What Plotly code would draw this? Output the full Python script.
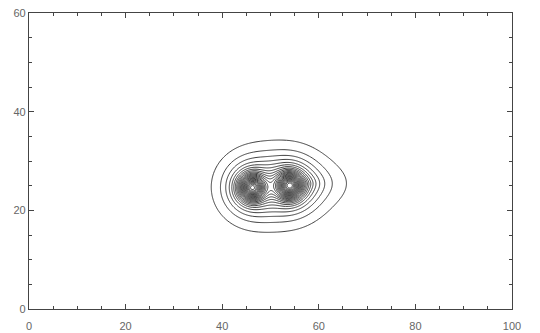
import numpy as np
import plotly.graph_objects as go

# Sources making up the field
# broad exponential components: two stars plus a faint halo to the right
src_x = [46.2, 54.0, 57.0]
src_y = [24.6, 25.0, 25.5]
src_amp = [1.0, 1.0, 0.12]
src_core = [2.0, 2.0, 0.0]
src_scale = [2.5, 2.5, 6.0]
src_ystretch = [1.0, 1.0, 2.0]
# compact gaussian cores of the two stars
core_x = [46.2, 54.0]
core_y = [24.6, 25.0]
core_amp = [0.4, 0.4]
core_sigma = [1.6, 1.6]

level_step = 0.037
level_start = 0.037
level_end = 1.0

x_ticks = [0, 20, 40, 60, 80, 100]
y_ticks = [0, 20, 40, 60]

xs = np.linspace(0, 100, 501)
ys = np.linspace(0, 60, 301)
X, Y = np.meshgrid(xs, ys)
Z = np.zeros_like(X)
for sx_, sy_, a, c, s, k in zip(src_x, src_y, src_amp, src_core, src_scale, src_ystretch):
    r2 = (X - sx_) ** 2 + ((Y - sy_) * k) ** 2
    Z += a * np.exp(-np.sqrt(r2 + c ** 2) / s)
for cx, cy, a, sg in zip(core_x, core_y, core_amp, core_sigma):
    r2 = (X - cx) ** 2 + (Y - cy) ** 2
    Z += a * np.exp(-r2 / (2 * sg ** 2))

fig = go.Figure(go.Contour(
    x=xs, y=ys, z=Z,
    contours=dict(coloring="lines", start=level_start, end=level_end, size=level_step),
    line=dict(color="#3a3a3a", width=1),
    colorscale=[[0, "#3a3a3a"], [1, "#3a3a3a"]],
    showscale=False, hoverinfo="skip",
))

axis_common = dict(
    showline=True, linecolor="#444", linewidth=1.2, mirror="allticks",
    ticks="inside", ticklen=5, tickcolor="#444", tickwidth=1,
    showgrid=False, zeroline=False, automargin=False,
    tickfont=dict(family="Liberation Sans, Arial, sans-serif", size=11, color="#666"),
)
fig.update_xaxes(range=[0, 100], tickvals=x_ticks, ticklabelstandoff=7,
                 minor=dict(ticks="inside", ticklen=3, dtick=5, tick0=0, tickcolor="#444", showgrid=False),
                 **axis_common)
fig.update_yaxes(range=[0, 60], tickvals=y_ticks,
                 minor=dict(ticks="inside", ticklen=3, dtick=5, tick0=0, tickcolor="#444", showgrid=False),
                 **axis_common)
fig.update_layout(
    width=540, height=333,
    margin=dict(l=29, r=28, t=13, b=24),
    paper_bgcolor="white", plot_bgcolor="white",
    showlegend=False,
)
fig.write_html("out.html")
